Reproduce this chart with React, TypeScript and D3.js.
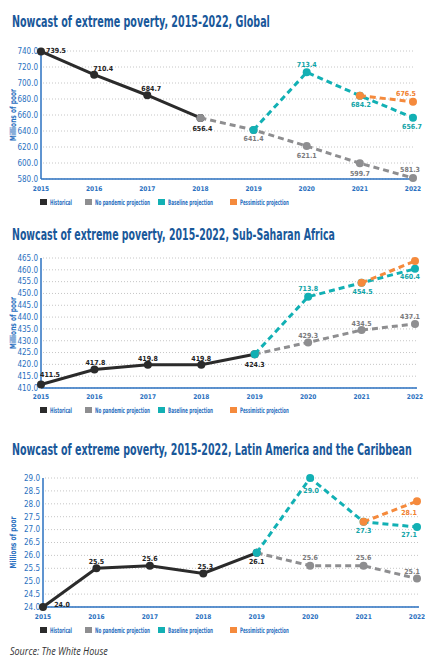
import React, { useLayoutEffect, useRef } from "react";
import * as d3 from "d3";

const years = [2015, 2016, 2017, 2018, 2019, 2020, 2021, 2022];
const seriesNames = ["Historical", "No pandemic projection", "Baseline projection", "Pessimistic projection"];

const globalHistorical = [739.5, 710.4, 684.7, 656.4, null, null, null, null];
const globalNoPandemic = [null, null, null, 656.4, 641.4, 621.1, 599.7, 581.3];
const globalBaseline = [null, null, null, null, 641.4, 713.4, 684.2, 656.7];
const globalPessimistic = [null, null, null, null, null, null, 684.2, 676.5];
const globalTicks = [580, 600, 620, 640, 660, 680, 700, 720, 740];

const ssaHistorical = [411.5, 417.8, 419.8, 419.8, 424.3, null, null, null];
const ssaNoPandemic = [null, null, null, null, 424.3, 429.3, 434.5, 437.1];
const ssaBaseline = [null, null, null, null, 424.3, 448.6, 454.5, 460.4];
const ssaBaselineLabels = [null, null, null, null, null, "713.8", "454.5", "460.4"];
const ssaPessimistic = [null, null, null, null, null, null, 454.5, 463.7];
const ssaTicks = [410, 415, 420, 425, 430, 435, 440, 445, 450, 455, 460, 465];

const lacHistorical = [24.0, 25.5, 25.6, 25.3, 26.1, null, null, null];
const lacNoPandemic = [null, null, null, null, 26.1, 25.6, 25.6, 25.1];
const lacBaseline = [null, null, null, null, 26.1, 29.0, 27.3, 27.1];
const lacPessimistic = [null, null, null, null, null, null, 27.3, 28.1];
const lacTicks = [24, 24.5, 25, 25.5, 26, 26.5, 27, 27.5, 28, 28.5, 29];

const COLORS = ["#2b2b2b", "#8e8e90", "#12b0b4", "#f58a3c"];
const LABEL_COLORS = ["#222", "#7a7a7c", "#0fa3a7", "#f0802e"];
const TITLE_COLOR = "#19589a";
const BLUE = "#2a70c0";
const NARROW = "'Liberation Sans Narrow', 'DejaVu Sans Condensed', 'Roboto Condensed', sans-serif";
const LEGEND_X = [40, 85, 158, 230];
const LEGEND_LEN = [22, 55, 45, 49];

type Place = [number, number];

type Series = {
  values: (number | null)[];
  labels?: (string | null)[];
  places: (Place | null)[];
};

type ChartCfg = {
  title: string;
  titleY: number;
  titleLen: number;
  xLeft: number;
  xRight: number;
  yTop: number;
  yBottom: number;
  ticks: number[];
  xTickY: number;
  legendY: number;
  series: Series[];
};

const charts: ChartCfg[] = [
  {
    title: "Nowcast of extreme poverty, 2015-2022,  Global",
    titleY: 27,
    titleLen: 258,
    xLeft: 41,
    xRight: 413,
    yTop: 51,
    yBottom: 179,
    ticks: globalTicks,
    xTickY: 191,
    legendY: 202,
    series: [
      { values: globalHistorical, places: [[15, -1], [9, -6], [4, -7], [2, 11], null, null, null, null] },
      { values: globalNoPandemic, places: [null, null, null, null, [0, 9], [0, 9], [0, 10], [-3, -8]] },
      { values: globalBaseline, places: [null, null, null, null, null, [0, -8], [1, 9], [-1, 9]] },
      { values: globalPessimistic, places: [null, null, null, null, null, null, null, [-7, -8]] },
    ],
  },
  {
    title: "Nowcast of extreme poverty, 2015-2022, Sub-Saharan Africa",
    titleY: 240,
    titleLen: 323,
    xLeft: 41,
    xRight: 415,
    yTop: 258,
    yBottom: 388,
    ticks: ssaTicks,
    xTickY: 399,
    legendY: 410,
    series: [
      { values: ssaHistorical, places: [[9, -10], [1, -7], [0, -6], [0, -6], [0, 10], null, null, null] },
      { values: ssaNoPandemic, places: [null, null, null, null, null, [0, -7], [0, -7], [-5, -7]] },
      { values: ssaBaseline, labels: ssaBaselineLabels, places: [null, null, null, null, null, [0, -8], [1, 9], [-5, 8]] },
      { values: ssaPessimistic, places: [null, null, null, null, null, null, null, null] },
    ],
  },
  {
    title: "Nowcast of extreme poverty, 2015-2022,  Latin America and the Caribbean",
    titleY: 455,
    titleLen: 400,
    xLeft: 43,
    xRight: 417,
    yTop: 478,
    yBottom: 607,
    ticks: lacTicks,
    xTickY: 619,
    legendY: 630,
    series: [
      { values: lacHistorical, places: [[19, -2], [0, -7], [0, -7], [2, -7], [0, 9], null, null, null] },
      { values: lacNoPandemic, places: [null, null, null, null, null, [0, -8], [0, -8], [-5, -7]] },
      { values: lacBaseline, places: [null, null, null, null, null, [1, 13], [0, 9], [-8, 8]] },
      { values: lacPessimistic, places: [null, null, null, null, null, null, null, [-8, 11]] },
    ],
  },
];

// Text that is horizontally scaled so that its width equals `width`
function FitText({
  x,
  y,
  width,
  rotate = 0,
  anchor = "start",
  children,
  ...rest
}: {
  x: number;
  y: number;
  width: number;
  rotate?: number;
  anchor?: string;
  children: React.ReactNode;
  [k: string]: any;
}) {
  const ref = useRef<SVGTextElement>(null);
  useLayoutEffect(() => {
    const el = ref.current;
    if (!el) return;
    const w = el.getComputedTextLength();
    const s = w > 0 ? width / w : 1;
    el.setAttribute("transform", `translate(${x},${y}) rotate(${rotate}) scale(${s},1)`);
  }, [x, y, width, rotate]);
  return (
    <text ref={ref} x={0} y={0} textAnchor={anchor} transform={`translate(${x},${y}) rotate(${rotate})`} {...rest}>
      {children}
    </text>
  );
}

function Chart({ cfg }: { cfg: ChartCfg }) {
  const x = d3.scalePoint<number>().domain(years).range([cfg.xLeft, cfg.xRight]);
  const y = d3
    .scaleLinear()
    .domain([cfg.ticks[0], cfg.ticks[cfg.ticks.length - 1]])
    .range([cfg.yBottom, cfg.yTop]);
  const line = d3
    .line<[number, number | null]>()
    .defined((d) => d[1] !== null)
    .x((d) => x(d[0]) as number)
    .y((d) => y(d[1] as number));
  const midY = (cfg.yTop + cfg.yBottom) / 2;
  return (
    <g>
      <FitText
        x={12}
        y={cfg.titleY}
        width={cfg.titleLen}
        fill={TITLE_COLOR}
        fontFamily={NARROW}
        fontWeight="bold"
        fontSize={15}
      >
        {cfg.title}
      </FitText>
      {cfg.ticks.map((t) => (
        <g key={t}>
          <line
            x1={cfg.xLeft + 2}
            x2={cfg.xRight + 2}
            y1={y(t)}
            y2={y(t)}
            stroke="#b8b8b8"
            strokeWidth={0.8}
            strokeDasharray="1 2"
          />
          <text
            x={cfg.xLeft - 3}
            y={y(t)}
            dy="0.35em"
            textAnchor="end"
            fontFamily={NARROW}
            fontSize={8}
            fill={BLUE}
          >
            {t.toFixed(1)}
          </text>
        </g>
      ))}
      <line x1={cfg.xLeft} x2={cfg.xLeft} y1={cfg.yTop} y2={cfg.yBottom} stroke={BLUE} strokeWidth={1.5} />
      <line x1={cfg.xLeft} x2={cfg.xRight + 2} y1={cfg.yBottom} y2={cfg.yBottom} stroke={BLUE} strokeWidth={1.5} />
      <FitText
        x={16}
        y={midY}
        width={52}
        rotate={-90}
        anchor="middle"
        fontFamily={NARROW}
        fontWeight="bold"
        fontSize={8.5}
        fill={BLUE}
      >
        Millions of poor
      </FitText>
      {years.map((yr) => (
        <text
          key={yr}
          x={x(yr)}
          y={cfg.xTickY}
          textAnchor="middle"
          fontFamily={NARROW}
          fontWeight="bold"
          fontSize={6.5}
          fill={BLUE}
        >
          {yr}
        </text>
      ))}
      {cfg.series.map((s, si) => {
        const pts: [number, number | null][] = years.map((yr, i) => [yr, s.values[i]]);
        return (
          <g key={si}>
            <path
              d={line(pts) || ""}
              fill="none"
              stroke={COLORS[si]}
              strokeWidth={3}
              strokeDasharray={si === 0 ? undefined : "6 4"}
            />
            {pts
              .filter((p) => p[1] !== null)
              .map((p) => (
                <circle key={p[0]} cx={x(p[0])} cy={y(p[1] as number)} r={4} fill={COLORS[si]} />
              ))}
          </g>
        );
      })}
      {cfg.series.map((s, si) =>
        years.map((yr, i) => {
          const v = s.values[i];
          const pl = s.places[i];
          if (v === null || !pl) return null;
          const lbl = s.labels && s.labels[i] ? s.labels[i] : v.toFixed(1);
          return (
            <text
              key={`${si}-${yr}`}
              x={(x(yr) as number) + pl[0]}
              y={y(v) + pl[1]}
              textAnchor="middle"
              dy="0.35em"
              fontFamily={NARROW}
              fontWeight="bold"
              fontSize={7}
              fill={LABEL_COLORS[si]}
            >
              {lbl}
            </text>
          );
        })
      )}
      {seriesNames.map((n, i) => (
        <g key={n}>
          <rect x={LEGEND_X[i]} y={cfg.legendY - 3} width={7} height={6} fill={COLORS[i]} />
          <FitText
            x={LEGEND_X[i] + 10}
            y={cfg.legendY + 2.5}
            width={LEGEND_LEN[i]}
            fontFamily={NARROW}
            fontWeight="bold"
            fontSize={7.5}
            fill={BLUE}
          >
            {n}
          </FitText>
        </g>
      ))}
    </g>
  );
}

export default function App() {
  return (
    <svg
      width={440}
      height={667}
      style={{ position: "absolute", left: 0, top: 0, background: "#fff" }}
    >
      <rect width={440} height={667} fill="#fff" />
      {charts.map((c, i) => (
        <Chart key={i} cfg={c} />
      ))}
      <FitText
        x={10}
        y={654.5}
        width={98}
        fontFamily="'Open Sans', sans-serif"
        fontStyle="italic"
        fontSize={10}
        fill="#333"
      >
        Source: The White House
      </FitText>
    </svg>
  );
}
